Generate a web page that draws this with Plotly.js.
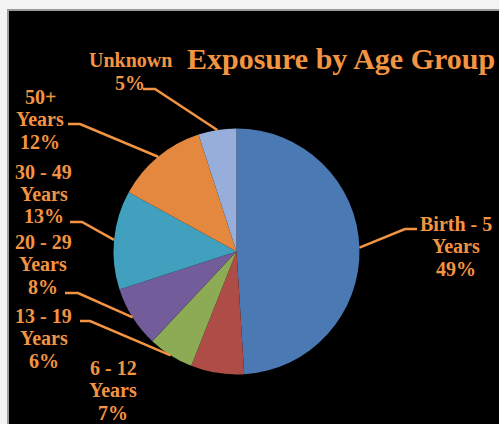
<!DOCTYPE html>
<html>
<head>
<meta charset="utf-8">
<script src="https://cdn.plot.ly/plotly-3.0.1.min.js"></script>
<style>
html,body{margin:0;padding:0;background:#f3f3f3;}
#chart{width:499px;height:424px;}
</style>
</head>
<body>
<div id="chart"></div>
<script>
// ---- data ----
var categories = ['Birth - 5 Years', '6 - 12 Years', '13 - 19 Years', '20 - 29 Years', '30 - 49 Years', '50+ Years', 'Unknown'];
var percents = [49, 7, 6, 8, 13, 12, 5];
var sliceColors = ['#4A79B3', '#AE4C48', '#8CAB54', '#725C9A', '#41A0BD', '#E3883E', '#96AED9'];
var titleText = 'Exposure by Age Group';

// ---- layout helpers (pixel geometry of the figure) ----
var W = 499, H = 424;
var cx = 236.5, cy = 251.5, R = 123;
function px(x){ return x / W; }
function py(y){ return 1 - y / H; }

// label block centers and leader elbows (layout positions, in pixels)
var labelPos = [
  {x: 456, y: 246, elbow: [[405, 229], [417, 229]]},
  {x: 113, y: 390, elbow: null},
  {x: 43.5, y: 338, elbow: [[90, 321], [80, 321]]},
  {x: 43, y: 264, elbow: [[78, 293], [65, 293]]},
  {x: 43.5, y: 194, elbow: [[82, 222], [70, 222]]},
  {x: 40, y: 119, elbow: [[80, 124], [68, 124]]},
  {x: 130, y: 71.5, elbow: [[155, 89], [143, 89]]}
];
var lineGap = 22.5;

var orange = '#F39442';
var fontFam = '"Liberation Serif", "Times New Roman", serif';

var total = percents.reduce(function(a,b){return a+b;}, 0);
var annotations = [];
var shapes = [
  {type:'rect', xref:'paper', yref:'paper', x0:px(8), x1:1.02, y0:-0.02, y1:py(10),
   fillcolor:'#000000', line:{color:'#9c9c9c', width:2}, layer:'below'}
];
var cum = 0;
for (var i = 0; i < categories.length; i++) {
  var mid = (cum + percents[i] / 2) / total * 2 * Math.PI;
  cum += percents[i];
  var ex = cx + R * Math.sin(mid), ey = cy - R * Math.cos(mid);
  var lines = categories[i].replace(' Years', '\nYears').split('\n');
  lines.push(percents[i] + '%');
  for (var k = 0; k < lines.length; k++) {
    var ly = labelPos[i].y + (k - (lines.length - 1) / 2) * lineGap;
    annotations.push({
      text: lines[k], xref:'paper', yref:'paper', x: px(labelPos[i].x), y: py(ly),
      xanchor:'center', yanchor:'middle', showarrow:false, align:'center',
      font:{family: fontFam, size:20, color: orange, weight:'bold'}
    });
  }
  if (labelPos[i].elbow) {
    var e = labelPos[i].elbow;
    var path = 'M ' + px(ex) + ' ' + py(ey) + ' L ' + px(e[0][0]) + ' ' + py(e[0][1]) + ' L ' + px(e[1][0]) + ' ' + py(e[1][1]);
    shapes.push({type:'path', xref:'paper', yref:'paper', path: path, line:{color: orange, width:2.5}, layer:'above'});
  }
}

var data = [{
  type: 'pie',
  labels: categories,
  values: percents,
  sort: false,
  direction: 'clockwise',
  rotation: 0,
  textinfo: 'none',
  hoverinfo: 'label+percent',
  marker: {colors: sliceColors, line: {width: 0}},
  domain: {x: [px(cx - R), px(cx + R)], y: [py(cy + R), py(cy - R)]},
  showlegend: false
}];

var layout = {
  width: W, height: H,
  margin: {l:0, r:0, t:0, b:0, pad:0},
  paper_bgcolor: '#f3f3f3',
  showlegend: false,
  title: {text: titleText, x: px(187), xanchor: 'left', xref:'paper', y: py(58), yref:'paper', yanchor: 'middle',
          font: {family: fontFam, size: 30, color: orange, weight: 'bold'}},
  annotations: annotations,
  shapes: shapes
};

Plotly.newPlot('chart', data, layout, {displayModeBar: false, staticPlot: true});
</script>
</body>
</html>
